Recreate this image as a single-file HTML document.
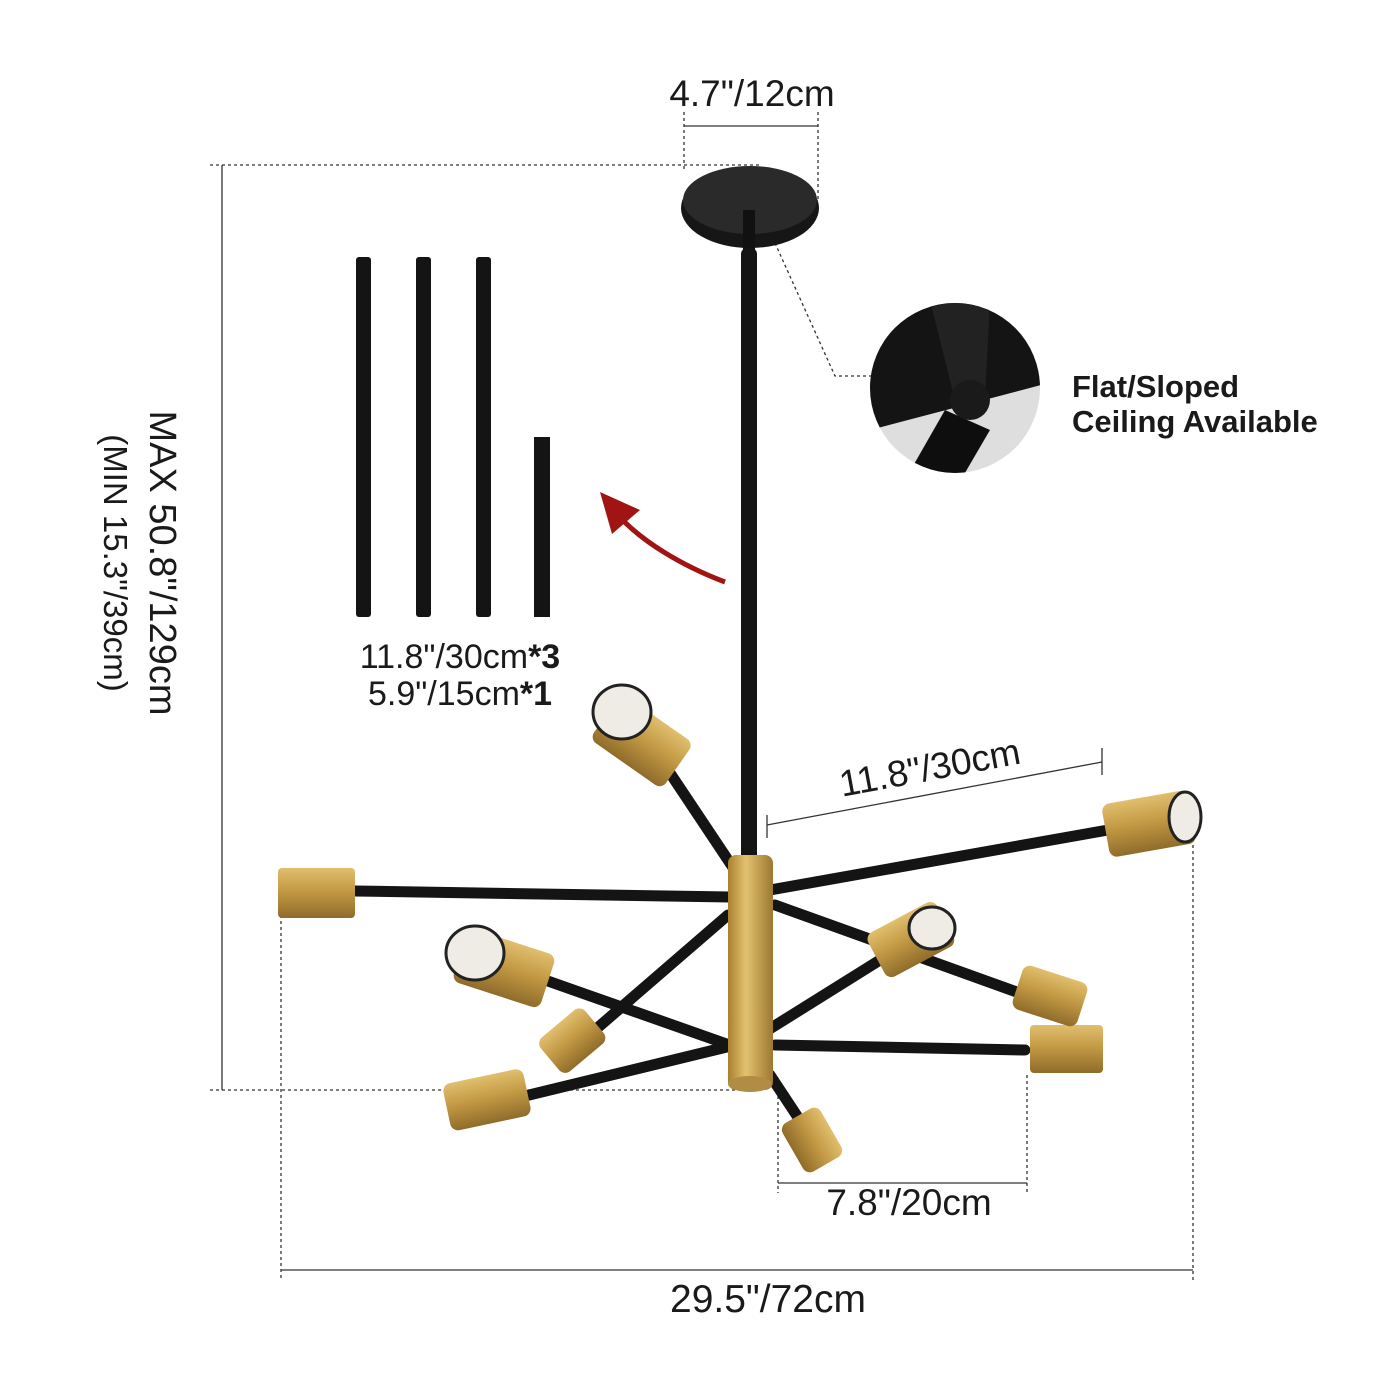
<!DOCTYPE html>
<html><head><meta charset="utf-8"><style>
html,body{margin:0;padding:0;background:#fff;width:1400px;height:1400px;overflow:hidden}
svg{display:block}
text{font-family:"Liberation Sans","DejaVu Sans",sans-serif;fill:#1a1a1a}
</style></head><body>
<svg width="1400" height="1400" viewBox="0 0 1400 1400" xmlns="http://www.w3.org/2000/svg">
<defs>
<linearGradient id="g" x1="0" y1="0" x2="0" y2="1">
<stop offset="0" stop-color="#e0bf6e"/><stop offset="0.45" stop-color="#c49a45"/><stop offset="1" stop-color="#8f6c2a"/></linearGradient>
<linearGradient id="gv" x1="0" y1="0" x2="1" y2="0">
<stop offset="0" stop-color="#a9802f"/><stop offset="0.4" stop-color="#e2c270"/><stop offset="1" stop-color="#9c7830"/></linearGradient>
<clipPath id="cc"><circle cx="955" cy="388" r="85"/></clipPath>
</defs>
<g stroke="#333" stroke-width="1.3" fill="none">
<line x1="684" y1="126" x2="818" y2="126"/><line x1="684" y1="112" x2="684" y2="170" stroke-dasharray="3,3"/><line x1="818" y1="112" x2="818" y2="200" stroke-dasharray="3,3"/>
<line x1="210" y1="165" x2="760" y2="165" stroke-dasharray="3,3"/>
<line x1="222" y1="165" x2="222" y2="1090"/>
<line x1="210" y1="1090" x2="740" y2="1090" stroke-dasharray="3,3"/>
<line x1="281" y1="915" x2="281" y2="1280" stroke-dasharray="3,3"/>
<line x1="1193" y1="845" x2="1193" y2="1280" stroke-dasharray="3,3"/>
<line x1="281" y1="1270" x2="1193" y2="1270"/>
<line x1="778" y1="1090" x2="778" y2="1193" stroke-dasharray="3,3"/>
<line x1="1027" y1="1075" x2="1027" y2="1193" stroke-dasharray="3,3"/>
<line x1="778" y1="1183" x2="1027" y2="1183"/>
<line x1="767" y1="825" x2="1102" y2="762"/><line x1="767" y1="815" x2="767" y2="838"/><line x1="1102" y1="748" x2="1102" y2="775"/>
<polyline points="770,232 835,376 872,376" stroke-dasharray="3,3"/>
</g>
<!-- canopy -->
<ellipse cx="750" cy="208" rx="69" ry="40" fill="#161616"/>
<ellipse cx="750" cy="200" rx="67" ry="34" fill="#2a2a2a"/>
<rect x="743" y="210" width="12" height="40" fill="#111"/>
<rect x="741" y="248" width="16" height="615" rx="6" fill="#141414"/>
<!-- rods -->
<g fill="#141414">
<rect x="356" y="257" width="15" height="360" rx="3"/><rect x="416" y="257" width="15" height="360" rx="3"/><rect x="476" y="257" width="15" height="360" rx="3"/><rect x="534" y="437" width="16" height="180"/>
</g>
<text x="460" y="668" font-size="34" text-anchor="middle">11.8"/30cm<tspan font-weight="bold">*3</tspan></text>
<text x="460" y="705" font-size="34" text-anchor="middle">5.9"/15cm<tspan font-weight="bold">*1</tspan></text>
<path d="M725 582 C680 565 640 540 618 515" stroke="#a01414" stroke-width="5" fill="none"/>
<polygon points="600,492 640,510 612,534" fill="#a01414"/>
<!-- inset -->
<g clip-path="url(#cc)">
<rect x="860" y="290" width="200" height="200" fill="#dedede"/>
<polygon points="860,290 1060,290 1060,380 870,430" fill="#141414"/>
<polygon points="930,300 990,300 985,400 955,400" fill="#222"/>
<polygon points="945,410 990,430 955,490 905,480" fill="#0e0e0e"/>
<circle cx="970" cy="400" r="20" fill="#1a1a1a"/>
</g>
<text x="1072" y="397" font-size="31" font-weight="bold">Flat/Sloped</text>
<text x="1072" y="432" font-size="31" font-weight="bold">Ceiling Available</text>
<!-- vertical text -->
<text transform="translate(150,563) rotate(90)" font-size="38" text-anchor="middle">MAX 50.8"/129cm</text>
<text transform="translate(104,563) rotate(90)" font-size="33" text-anchor="middle">(MIN 15.3"/39cm)</text>
<text x="752" y="106" font-size="37" text-anchor="middle">4.7"/12cm</text>
<text transform="translate(932,780) rotate(-10.5)" font-size="37" text-anchor="middle">11.8"/30cm</text>
<text x="909" y="1215" font-size="37" text-anchor="middle">7.8"/20cm</text>
<text x="768" y="1312" font-size="39" text-anchor="middle">29.5"/72cm</text>
<!-- arms -->
<g stroke="#141414" stroke-width="11" stroke-linecap="round">
<line x1="730" y1="897" x2="355" y2="891"/>
<line x1="748" y1="890" x2="668" y2="770"/>
<line x1="770" y1="890" x2="1108" y2="830"/>
<line x1="545" y1="980" x2="738" y2="1048"/>
<line x1="595" y1="1030" x2="728" y2="915"/>
<line x1="525" y1="1096" x2="735" y2="1045"/>
<line x1="880" y1="960" x2="760" y2="1035"/>
<line x1="775" y1="905" x2="1025" y2="995"/>
<line x1="775" y1="1045" x2="1025" y2="1050"/>
<line x1="770" y1="1075" x2="805" y2="1128"/>
</g>
<rect x="728" y="855" width="45" height="235" rx="8" fill="url(#gv)"/>
<ellipse cx="750" cy="1084" rx="22" ry="8" fill="#b08c44"/>
<!-- cylinders -->
<g fill="url(#g)">
<rect x="278" y="868" width="77" height="50" rx="4"/>
<rect x="1030" y="1025" width="73" height="48" rx="4"/>
<g transform="translate(640,740) rotate(35)"><rect x="-42" y="-28" width="88" height="56" rx="8"/></g>
<g transform="translate(1153,823) rotate(-10)"><rect x="-48" y="-27" width="88" height="54" rx="8"/></g>
<g transform="translate(503,968) rotate(18)"><rect x="-45" y="-28" width="92" height="56" rx="8"/></g>
<g transform="translate(910,940) rotate(-28)"><rect x="-38" y="-25" width="78" height="50" rx="8"/></g>
<g transform="translate(486,1100) rotate(-12)"><rect x="-40" y="-24" width="82" height="48" rx="8"/></g>
<g transform="translate(573,1040) rotate(-40)"><rect x="-30" y="-22" width="58" height="44" rx="8"/></g>
<g transform="translate(1050,996) rotate(18)"><rect x="-34" y="-23" width="68" height="46" rx="8"/></g>
<g transform="translate(812,1140) rotate(60)"><rect x="-28" y="-22" width="56" height="44" rx="8"/></g>
</g>
<g fill="#efece6" stroke="#222" stroke-width="3">
<ellipse cx="622" cy="712" rx="29" ry="27"/>
<ellipse cx="1185" cy="817" rx="16" ry="25"/>
<ellipse cx="475" cy="953" rx="29" ry="27"/>
<ellipse cx="932" cy="928" rx="23" ry="21"/>
</g>
</svg>
</body></html>
